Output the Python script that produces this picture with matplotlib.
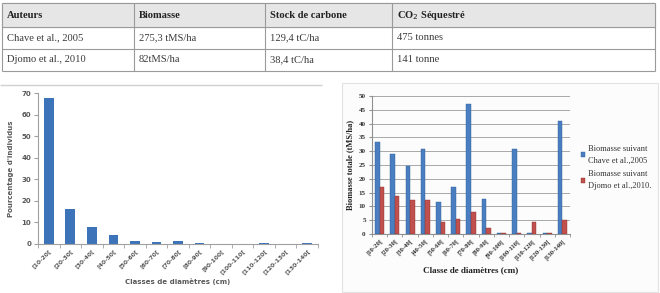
import matplotlib.pyplot as plt
import numpy as np

# table data
columns = ["Auteurs", "Biomasse", "Stock de carbone", "CO$_2$ Séquestré"]
rows = [["Chave et al., 2005", "275,3 tMS/ha", "129,4 tC/ha", "475 tonnes"],
        ["Djomo et al., 2010", "82tMS/ha", "38,4 tC/ha", "141 tonne"]]

# diameter classes
classes = ["[10-20[", "[20-30[", "[30-40[", "[40-50[", "[50-60[", "[60-70[", "[70-80[",
           "[80-90[", "[90-100[", "[100-110[", "[110-120[", "[120-130[", "[130-140["]

# percentage of individuals per class
pct = [67.5, 16.3, 7.8, 4.3, 1.3, 1.1, 1.3, 0.3, 0.0, 0.0, 0.3, 0.0, 0.3]

# biomass per class (tMS/ha)
bio_chave = [33.5, 29.0, 24.5, 30.7, 11.5, 17.2, 47.0, 12.7, 0.3, 30.8, 0.3, 0.3, 41.0]
bio_djomo = [17.0, 13.7, 12.2, 12.3, 4.5, 5.3, 8.0, 2.2, 0.3, 0.3, 4.3, 0.3, 5.0]

W, H = 660, 293
fig = plt.figure(figsize=(W / 100, H / 100), dpi=100)

# ---- table, drawn in pixel coordinates ----
bg = fig.add_axes([0, 0, 1, 1])
bg.set_xlim(0, W)
bg.set_ylim(H, 0)
bg.axis("off")

col_x = [2, 134, 265, 392, 655]
row_y = [3, 27, 49, 71]
bg.fill_between([col_x[0], col_x[-1]], row_y[0], row_y[1], color="#e6e6e6", zorder=0)
bg.hlines(row_y, col_x[0], col_x[-1], color="#9a9a9a", lw=0.8)
bg.vlines(col_x, row_y[0], row_y[-1], color="#9a9a9a", lw=0.8)
serif = "Liberation Serif"
for j, c in enumerate(columns):
    bg.text(col_x[j] + 5, (row_y[0] + row_y[1]) / 2, c, family=serif, weight="bold",
            fontsize=7.6, va="center", color="#222222")
for i, r in enumerate(rows):
    for j, c in enumerate(r):
        bg.text(col_x[j] + 5, (row_y[i + 1] + row_y[i + 2]) / 2, c, family=serif,
                fontsize=7.6, va="center", color="#3a3a3a")

# chart frames
bg.hlines(85, 0, 322, color="#d0d0d0", lw=1)
bg.add_patch(plt.Rectangle((342, 83), 316, 209, fc="#fcfcfc", ec="#e2e2e2", lw=0.8, zorder=0))

x = np.arange(len(classes))
gray = "#595959"

# ---- left chart ----
ax1 = fig.add_axes([38 / W, 1 - 244 / H, 280 / W, (244 - 93) / H])
ax1.bar(x, pct, width=0.45, color="#3d74b9")
ax1.set_xlim(-0.5, len(classes) - 0.5)
ax1.set_ylim(0, 70)
ax1.set_yticks(range(0, 71, 10))
ax1.set_xticks(x)
ax1.set_xticklabels(classes, rotation=45, ha="right", rotation_mode="anchor")
ax1.set_xticks(np.arange(-0.5, len(classes), 1), minor=True)
ax1.tick_params(axis="x", which="major", length=0, pad=3, labelsize=4.3, labelcolor=gray)
ax1.tick_params(axis="x", which="minor", length=3, color="#a0a0a0")
ax1.tick_params(axis="y", length=3, color="#a0a0a0", labelsize=5, labelcolor=gray, pad=2)
for lab in ax1.get_xticklabels() + ax1.get_yticklabels():
    lab.set_fontweight("bold")
for s in ["top", "right"]:
    ax1.spines[s].set_visible(False)
for s in ["left", "bottom"]:
    ax1.spines[s].set_color("#a0a0a0")
    ax1.spines[s].set_linewidth(0.8)
ax1.set_ylabel("Pourcentage d'individus", fontsize=5, weight="bold", color=gray, labelpad=5)
ax1.set_xlabel("Classes de diamètres (cm)", fontsize=5, weight="bold", color=gray, labelpad=2)

# ---- right chart ----
ax2 = fig.add_axes([372 / W, 1 - 234 / H, 198 / W, (234 - 96) / H])
bw = 0.3
ax2.bar(x - bw / 2, bio_chave, width=bw, color="#4a7ec0", edgecolor="#2f5f9a", lw=0.3,
        label="Biomasse suivant\nChave et al.,2005", zorder=3)
ax2.bar(x + bw / 2, bio_djomo, width=bw, color="#c0504d", edgecolor="#8f3230", lw=0.3,
        label="Biomasse suivant\nDjomo et al.,2010.", zorder=3)
ax2.set_xlim(-0.5, len(classes) - 0.5)
ax2.set_ylim(0, 50)
ax2.set_yticks(range(0, 51, 5))
ax2.grid(axis="y", color="#a8a8a8", lw=0.7, zorder=0)
ax2.set_xticks(x)
ax2.set_xticklabels(classes, rotation=45, ha="right", rotation_mode="anchor")
ax2.set_xticks(np.arange(-0.5, len(classes), 1), minor=True)
ax2.tick_params(axis="x", which="major", length=0, pad=3, labelsize=4.8, labelcolor="#333333")
ax2.tick_params(axis="x", which="minor", length=2.5, color="#909090")
ax2.tick_params(axis="y", length=2.5, color="#909090", labelsize=5, labelcolor="#333333", pad=2)
for lab in ax2.get_xticklabels() + ax2.get_yticklabels():
    lab.set_family(serif)
    lab.set_fontweight("bold")
for s in ["top", "right"]:
    ax2.spines[s].set_visible(False)
for s in ["left", "bottom"]:
    ax2.spines[s].set_color("#909090")
    ax2.spines[s].set_linewidth(0.8)
ax2.set_facecolor("none")
ax2.set_ylabel("Biomasse totale (tMS/ha)", fontsize=6, weight="bold", family=serif,
               color="#222222", labelpad=3)
ax2.set_xlabel("Classe de diamètres (cm)", fontsize=6.5, weight="bold", family=serif,
               color="#222222", labelpad=4)
leg = ax2.legend(loc="upper left", bbox_to_anchor=(1.04, 0.67), frameon=False,
                 prop={"family": serif, "size": 6}, handlelength=0.5, handleheight=0.5,
                 handletextpad=0.3, labelspacing=0.7, borderaxespad=0)
for t in leg.get_texts():
    t.set_linespacing(1.6)
    t.set_color("#333333")

fig.savefig("out.png", dpi=100)
